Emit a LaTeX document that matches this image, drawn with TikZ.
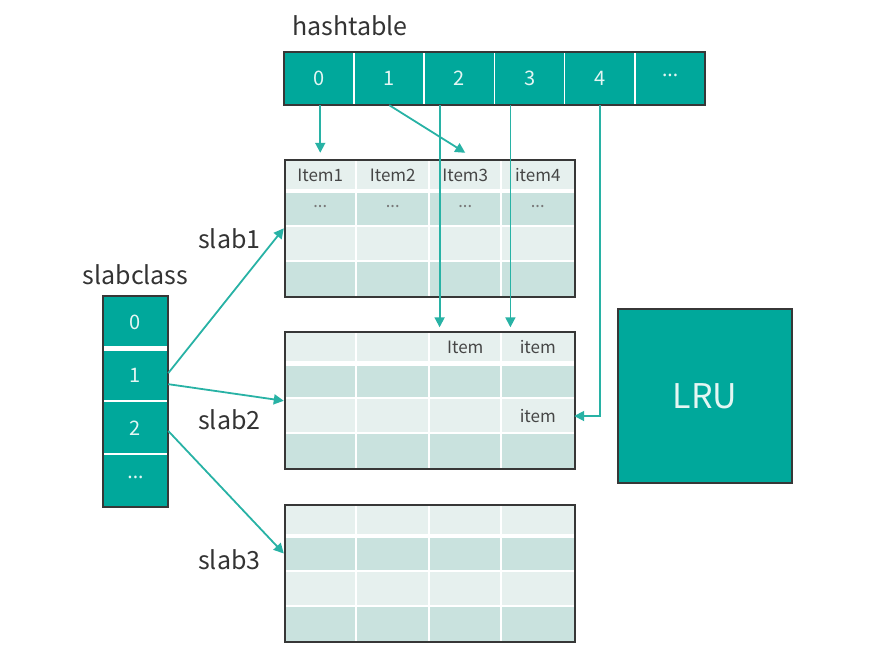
\documentclass[tikz,border=0pt]{standalone}
\usepackage{fontspec}
\setmainfont{Noto Sans CJK SC}
\newfontfamily\dotfont{Noto Sans}
\usetikzlibrary{positioning, calc, arrows.meta}
\definecolor{tealfill}{RGB}{0, 168, 155}
\definecolor{tealtext}{RGB}{228, 246, 243}
\definecolor{linkteal}{RGB}{40, 178, 165}
\definecolor{rowlight}{RGB}{230, 240, 238}
\definecolor{rowdark}{RGB}{201, 226, 222}
\definecolor{framegray}{RGB}{55, 55, 55}
\definecolor{labelgray}{RGB}{51, 51, 51}
\definecolor{cellgray}{RGB}{70, 70, 70}
\definecolor{dotgray}{RGB}{120, 120, 120}
\newcommand{\moredots}{{\dotfont ···}}

\begin{document}
\begin{tikzpicture}[
    x=1pt, y=-1pt,
    hcell/.style={rectangle, minimum width=70.2pt, minimum height=53pt, inner sep=0pt, fill=tealfill, text=tealtext, font=\fontsize{20}{20}\selectfont},
    sccell/.style={rectangle, minimum width=65pt, minimum height=52.75pt, inner sep=0pt, fill=tealfill, text=tealtext, font=\fontsize{20}{20}\selectfont},
    slabcell/.style={rectangle, minimum width=72.5pt, inner sep=0pt},
    celltext/.style={text=cellgray, font=\fontsize{17}{17}\selectfont, inner sep=0pt},
    slabframe/.style={rectangle, minimum width=290pt, minimum height=137pt, inner sep=0pt, draw=framegray, line width=2pt, anchor=north west},
    title/.style={anchor=base west, text=labelgray, font=\fontsize{25}{25}\selectfont, inner sep=0pt},
    link/.style={draw=linkteal, line width=1.8pt, -{Triangle[length=10pt, width=10pt]}},
    divider/.style={draw=white, line width=2pt}
]
\useasboundingbox (0,0) rectangle (870,659);

% Hashtable
\foreach \i/\txt in {0/0, 1/1, 2/2, 3/3, 4/4, 5/\moredots}
    \node (h\i) [hcell] at ({319.1+70.2*\i}, 78.5) {\txt};
\foreach \i in {1,...,5}
    \draw [divider, line width=1.5pt] (h\i.north west) -- (h\i.south west);
\draw [framegray, line width=2pt] (h0.north west) rectangle (h5.south east);
\node [title] at (292, 35) {hashtable};

% Slabs
\foreach \s/\top in {1/159, 2/331.5, 3/504} {
    \foreach \r/\yc/\hh/\shade in {1/16/32/rowlight, 2/49.5/35/rowdark, 3/84.5/35/rowlight, 4/119.5/35/rowdark}
        \foreach \c in {1,...,4}
            \node (s\s-r\r-c\c) [slabcell, fill=\shade, minimum height=\hh pt] at ({247.75+72.5*\c}, {\top+\yc}) {};
    \foreach \c in {2,3,4}
        \draw [divider] (s\s-r1-c\c.north west) -- (s\s-r4-c\c.south west);
    \draw [divider, line width=4.5pt] (s\s-r2-c1.north west) -- (s\s-r2-c4.north east);
    \draw [divider] (s\s-r3-c1.north west) -- (s\s-r3-c4.north east);
    \draw [divider] (s\s-r4-c1.north west) -- (s\s-r4-c4.north east);
    \node (slab\s) [slabframe] at (s\s-r1-c1.north west) {};
}
\foreach \c/\txt in {1/Item1, 2/Item2, 3/Item3, 4/item4}
    \node [celltext] at (s1-r1-c\c) {\txt};
\foreach \c in {1,...,4}
    \node [celltext, text=dotgray] at (s1-r2-c\c) {\moredots};
\node [celltext] at (s2-r1-c3) {Item};
\node [celltext] at (s2-r1-c4) {item};
\node [celltext] at (s2-r3-c4) {item};

\node [title] at (198, 248) {slab1};
\node [title] at (198, 429) {slab2};
\node [title] at (198, 569) {slab3};

% Slabclass
\foreach \i/\txt in {0/0, 1/1, 2/2, 3/\moredots}
    \node (sc\i) [sccell] at (135.5, {322.4+52.75*\i}) {\txt};
\draw [divider, line width=5pt] (sc1.north west) -- (sc1.north east);
\draw [divider] (sc2.north west) -- (sc2.north east);
\draw [divider] (sc3.north west) -- (sc3.north east);
\draw [framegray, line width=2pt] (sc0.north west) rectangle (sc3.south east);
\node [title, anchor=base, above=11pt of sc0] {slabclass};

% LRU
\node (lru) [rectangle, minimum size=174pt, fill=tealfill, draw=framegray, line width=1.5pt, text=tealtext, font=\fontsize{34}{34}\selectfont] at (705, 396) {LRU};

% Links
\draw [link] (s1-r1-c1 |- h0.south) -- ($(s1-r1-c1.north)+(0,-6)$);
\draw [link] (h1.south) -- ($(s1-r1-c3.north)+(0,-6)$);
\coordinate (h2out) at ($(h2.south west)+(15.4,0)$);
\coordinate (h3out) at ($(h3.south west)+(16,0)$);
\draw [link] (h2out) -- ($(h2out |- slab2.north)+(0,-4)$);
\draw [link] (h3out) -- ($(h3out |- slab2.north)+(0,-4)$);
\draw [link] (h4.south) |- (s2-r3-c4.east);
\draw [link] ([yshift=2pt]sc1.east) -- (slab1.west);
\draw [link] ([yshift=-9pt]sc1.east) -- (slab2.west);
\draw [link] ([yshift=-3pt]sc2.east) -- (s3-r2-c1.west);

\end{tikzpicture}
\end{document}
